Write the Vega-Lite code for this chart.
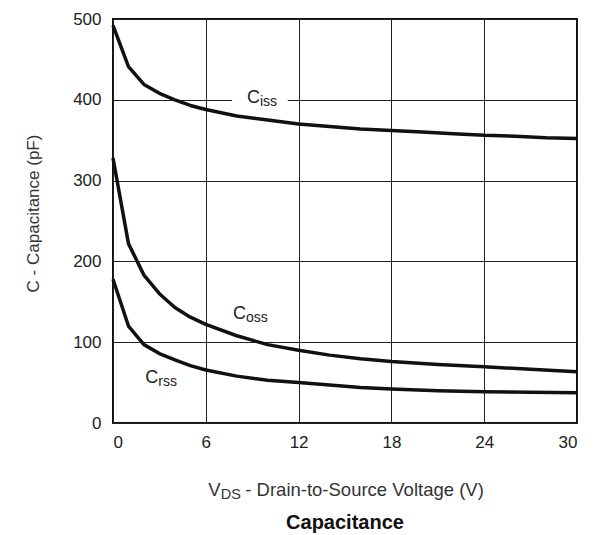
{
  "$schema": "https://vega.github.io/schema/vega-lite/v6.json",
  "width": 464,
  "height": 404,
  "autosize": "none",
  "padding": {"left": 113, "top": 19, "right": 17, "bottom": 112},
  "background": "white",
  "title": {
    "text": "Capacitance",
    "orient": "bottom",
    "anchor": "middle",
    "font": "Liberation Sans",
    "fontSize": 20,
    "fontWeight": "bold",
    "color": "#111",
    "offset": 12
  },
  "config": {
    "view": {"stroke": "#111", "strokeWidth": 2},
    "axis": {
      "grid": true,
      "gridColor": "#222",
      "gridWidth": 1,
      "gridOpacity": 1,
      "domain": false,
      "ticks": false,
      "labelFont": "Liberation Sans",
      "labelFontSize": 17,
      "labelColor": "#222",
      "titleFont": "Liberation Sans",
      "titleFontSize": 17,
      "titleFontWeight": "normal",
      "titleColor": "#333"
    },
    "text": {"font": "Liberation Sans", "color": "#222"}
  },
  "datasets": {
    "curves": [
      {"series": "Ciss", "vds": 0, "c": 492},
      {"series": "Ciss", "vds": 1, "c": 441},
      {"series": "Ciss", "vds": 2, "c": 419},
      {"series": "Ciss", "vds": 3, "c": 408},
      {"series": "Ciss", "vds": 4, "c": 400},
      {"series": "Ciss", "vds": 5, "c": 393},
      {"series": "Ciss", "vds": 6, "c": 388},
      {"series": "Ciss", "vds": 8, "c": 380},
      {"series": "Ciss", "vds": 10, "c": 375},
      {"series": "Ciss", "vds": 12, "c": 370},
      {"series": "Ciss", "vds": 14, "c": 367},
      {"series": "Ciss", "vds": 16, "c": 364},
      {"series": "Ciss", "vds": 18, "c": 362},
      {"series": "Ciss", "vds": 20, "c": 360},
      {"series": "Ciss", "vds": 22, "c": 358},
      {"series": "Ciss", "vds": 24, "c": 356},
      {"series": "Ciss", "vds": 26, "c": 355},
      {"series": "Ciss", "vds": 28, "c": 353},
      {"series": "Ciss", "vds": 30, "c": 352},
      {"series": "Coss", "vds": 0, "c": 328},
      {"series": "Coss", "vds": 1, "c": 222},
      {"series": "Coss", "vds": 2, "c": 183},
      {"series": "Coss", "vds": 3, "c": 160},
      {"series": "Coss", "vds": 4, "c": 143},
      {"series": "Coss", "vds": 5, "c": 131},
      {"series": "Coss", "vds": 6, "c": 122},
      {"series": "Coss", "vds": 8, "c": 108},
      {"series": "Coss", "vds": 10, "c": 97},
      {"series": "Coss", "vds": 12, "c": 90},
      {"series": "Coss", "vds": 14, "c": 84},
      {"series": "Coss", "vds": 16, "c": 79.5},
      {"series": "Coss", "vds": 18, "c": 76},
      {"series": "Coss", "vds": 21, "c": 72.5},
      {"series": "Coss", "vds": 24, "c": 69.5},
      {"series": "Coss", "vds": 27, "c": 66.5},
      {"series": "Coss", "vds": 30, "c": 63.5},
      {"series": "Crss", "vds": 0, "c": 178},
      {"series": "Crss", "vds": 1, "c": 120},
      {"series": "Crss", "vds": 2, "c": 97},
      {"series": "Crss", "vds": 3, "c": 86},
      {"series": "Crss", "vds": 4, "c": 78},
      {"series": "Crss", "vds": 5, "c": 71},
      {"series": "Crss", "vds": 6, "c": 65.6},
      {"series": "Crss", "vds": 8, "c": 58},
      {"series": "Crss", "vds": 10, "c": 53},
      {"series": "Crss", "vds": 12, "c": 50},
      {"series": "Crss", "vds": 14, "c": 47},
      {"series": "Crss", "vds": 16, "c": 44},
      {"series": "Crss", "vds": 18, "c": 42},
      {"series": "Crss", "vds": 21, "c": 40},
      {"series": "Crss", "vds": 24, "c": 38.7},
      {"series": "Crss", "vds": 27, "c": 38},
      {"series": "Crss", "vds": 30, "c": 37.5}
    ],
    "gap": [
      {"x": 7.7, "x2": 11.3, "y": 393, "y2": 407}
    ],
    "labels": [
      {"series": "Ciss", "main": "C", "sub": "iss", "vds": 8.66, "c": 396},
      {"series": "Coss", "main": "C", "sub": "oss", "vds": 7.76, "c": 128.7},
      {"series": "Crss", "main": "C", "sub": "rss", "vds": 2.09, "c": 49.9}
    ],
    "xtitle": [
      {"vds": 6.16, "c": -90.3, "v": "V", "sub": "DS", "rest": "- Drain-to-Source Voltage (V)"}
    ]
  },
  "layer": [
    {
      "data": {"name": "curves"},
      "mark": {"type": "line", "interpolate": "linear", "color": "#111", "strokeWidth": 3.5, "strokeJoin": "round"},
      "encoding": {
        "x": {
          "field": "vds",
          "type": "quantitative",
          "scale": {"domain": [0, 30], "nice": false, "zero": false},
          "axis": {"values": [0, 6, 12, 18, 24, 30], "title": null, "labelPadding": 11}
        },
        "y": {
          "field": "c",
          "type": "quantitative",
          "scale": {"domain": [0, 500], "nice": false},
          "axis": {
            "values": [0, 100, 200, 300, 400, 500],
            "title": "C - Capacitance (pF)",
            "labelPadding": 12,
            "titleX": -80,
            "titleY": 194,
            "titleAngle": -90,
            "titleAlign": "center",
            "titleBaseline": "middle"
          }
        },
        "detail": {"field": "series"}
      }
    },
    {
      "data": {"name": "gap"},
      "mark": {"type": "rect", "color": "white"},
      "encoding": {
        "x": {"field": "x", "type": "quantitative"},
        "x2": {"field": "x2"},
        "y": {"field": "y", "type": "quantitative"},
        "y2": {"field": "y2"}
      }
    },
    {
      "data": {"name": "labels"},
      "mark": {"type": "text", "align": "left", "baseline": "alphabetic", "fontSize": 18},
      "encoding": {
        "x": {"field": "vds", "type": "quantitative"},
        "y": {"field": "c", "type": "quantitative"},
        "text": {"field": "main"}
      }
    },
    {
      "data": {"name": "labels"},
      "mark": {"type": "text", "align": "left", "baseline": "alphabetic", "fontSize": 14, "dx": 13, "dy": 3},
      "encoding": {
        "x": {"field": "vds", "type": "quantitative"},
        "y": {"field": "c", "type": "quantitative"},
        "text": {"field": "sub"}
      }
    },
    {
      "data": {"name": "xtitle"},
      "mark": {"type": "text", "align": "left", "baseline": "alphabetic", "fontSize": 18.5, "color": "#333"},
      "encoding": {
        "x": {"field": "vds", "type": "quantitative"},
        "y": {"field": "c", "type": "quantitative"},
        "text": {"field": "v"}
      }
    },
    {
      "data": {"name": "xtitle"},
      "mark": {"type": "text", "align": "left", "baseline": "alphabetic", "fontSize": 14.5, "dx": 12.5, "dy": 3, "color": "#333"},
      "encoding": {
        "x": {"field": "vds", "type": "quantitative"},
        "y": {"field": "c", "type": "quantitative"},
        "text": {"field": "sub"}
      }
    },
    {
      "data": {"name": "xtitle"},
      "mark": {"type": "text", "align": "left", "baseline": "alphabetic", "fontSize": 18.5, "dx": 37, "color": "#333"},
      "encoding": {
        "x": {"field": "vds", "type": "quantitative"},
        "y": {"field": "c", "type": "quantitative"},
        "text": {"field": "rest"}
      }
    }
  ]
}
